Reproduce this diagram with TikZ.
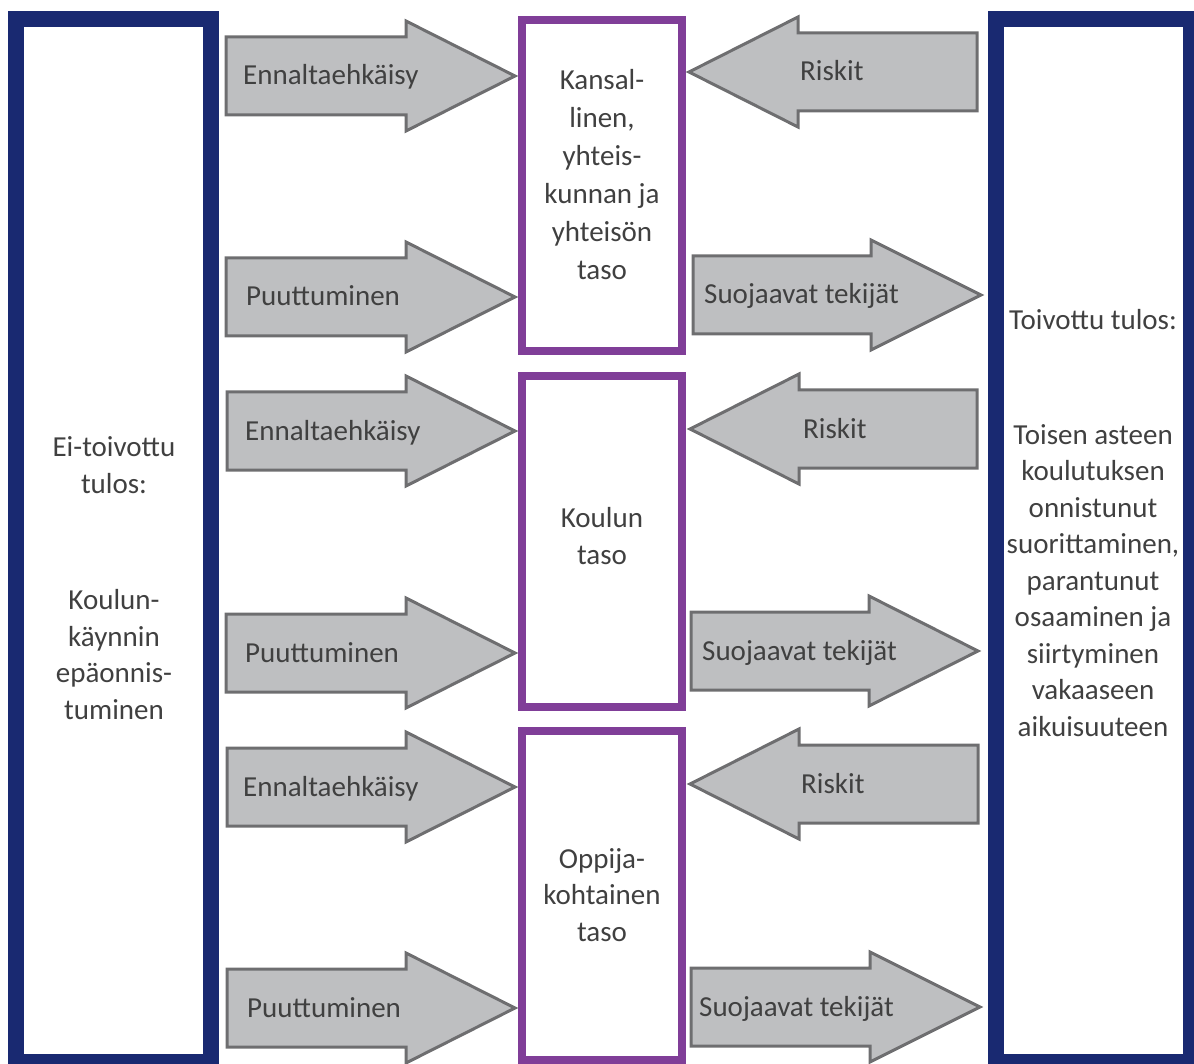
\documentclass[tikz,border=0pt]{standalone}
\usepackage{fontspec}
\setmainfont{Carlito}
\usepackage{xcolor}
\usepackage{tikz}
\usetikzlibrary{positioning, calc}
\definecolor{navy}{RGB}{25,41,113}
\definecolor{levelpurple}{RGB}{128,62,152}
\definecolor{arrowfill}{RGB}{190,191,193}
\definecolor{arrowline}{RGB}{110,110,112}
\definecolor{txt}{RGB}{64,64,64}

\begin{document}
\begin{tikzpicture}[x=1pt, y=-1pt,
    navybox/.style={draw=navy, line width=16pt},
    levelbox/.style={draw=levelpurple, line width=8pt},
    grayarrow/.style={draw=arrowline, fill=arrowfill, line width=3pt, line join=miter},
    lbl/.style={text=txt, inner sep=0pt, font=\fontsize{29}{36.5}\selectfont},
    blk/.style={lbl, align=center}]
      \useasboundingbox (0,0) rectangle (1194,1064);
      \clip (0,0) rectangle (1194,1064);

      \draw [navybox] (16,19) rectangle (211,1062);
      \draw [navybox] (996,19) rectangle (1191,1062);
      \draw [levelbox] (522,20) rectangle (682,351);
      \draw [levelbox] (522,376) rectangle (682,707);
      \draw [levelbox] (522,731) rectangle (682,1060);

      \draw [grayarrow] plot coordinates { (226,37) (406,37) (406,21) (515,76) (406,131) (406,115) (226,115) } -- cycle;
      \draw [grayarrow] plot coordinates { (226,258) (406,258) (406,242) (515,297) (406,352) (406,336) (226,336) } -- cycle;
      \draw [grayarrow] plot coordinates { (227,392) (406,392) (406,376) (515,431) (406,486) (406,470) (227,470) } -- cycle;
      \draw [grayarrow] plot coordinates { (226,614) (406,614) (406,598) (515,653) (406,708) (406,692) (226,692) } -- cycle;
      \draw [grayarrow] plot coordinates { (227,748) (406,748) (406,732) (515,787) (406,842) (406,826) (227,826) } -- cycle;
      \draw [grayarrow] plot coordinates { (227,969) (406,969) (406,953) (515,1008) (406,1063) (406,1047) (227,1047) } -- cycle;

      \draw [grayarrow] plot coordinates { (977,33) (798,33) (798,17) (689,72) (798,127) (798,111) (977,111) } -- cycle;
      \draw [grayarrow] plot coordinates { (977,390) (799,390) (799,374) (690,429) (799,484) (799,468) (977,468) } -- cycle;
      \draw [grayarrow] plot coordinates { (978,745) (799,745) (799,729) (690,784) (799,839) (799,823) (978,823) } -- cycle;

      \draw [grayarrow] plot coordinates { (693,256) (871,256) (871,240) (981,295) (871,350) (871,334) (693,334) } -- cycle;
      \draw [grayarrow] plot coordinates { (691,612) (869,612) (869,596) (978,651) (869,706) (869,690) (691,690) } -- cycle;
      \draw [grayarrow] plot coordinates { (691,968) (870,968) (870,952) (980,1007) (870,1062) (870,1046) (691,1046) } -- cycle;

      \node[lbl, anchor=base west] (ennalta1) at (243,85) {Ennaltaehkäisy};
      \node[lbl, anchor=base west] (puutt1) at (246,306) {Puuttuminen};
      \node[lbl, anchor=base west] (ennalta2) at (245,440) {Ennaltaehkäisy};
      \node[lbl, anchor=base west] (puutt2) at (245,662) {Puuttuminen};
      \node[lbl, anchor=base west] (ennalta3) at (243,796) {Ennaltaehkäisy};
      \node[lbl, anchor=base west] (puutt3) at (247,1017) {Puuttuminen};

      \node[lbl, anchor=base west] (riski1) at (800,81) {Riskit};
      \node[lbl, anchor=base west] (suoja1) at (704,304) {Suojaavat tekijät};
      \node[lbl, anchor=base west] (riski2) at (803,438) {Riskit};
      \node[lbl, anchor=base west] (suoja2) at (702,660) {Suojaavat tekijät};
      \node[lbl, anchor=base west] (riski3) at (801,793) {Riskit};
      \node[lbl, anchor=base west] (suoja3) at (699,1016) {Suojaavat tekijät};

      \node[blk, font=\fontsize{29}{38}\selectfont] (kansa) at (602,175) {Kansal-\\linen,\\yhteis-\\kunnan ja\\yhteisön\\taso};
      \node[blk] (koulu) at (602,536) {Koulun\\taso};
      \node[blk] (oppija) at (602,895) {Oppija-\\kohtainen\\taso};

      \node[blk] (eitulos) at (114,578) {Ei-toivottu\\tulos:\\[80pt]Koulun-\\käynnin\\epäonnis-\\tuminen};
      \node[blk] (tulos) at (1093,523) {Toivottu tulos:\\[78pt]Toisen asteen\\koulutuksen\\onnistunut\\suorittaminen,\\parantunut\\osaaminen ja\\siirtyminen\\vakaaseen\\aikuisuuteen};
    \end{tikzpicture}
\end{document}
